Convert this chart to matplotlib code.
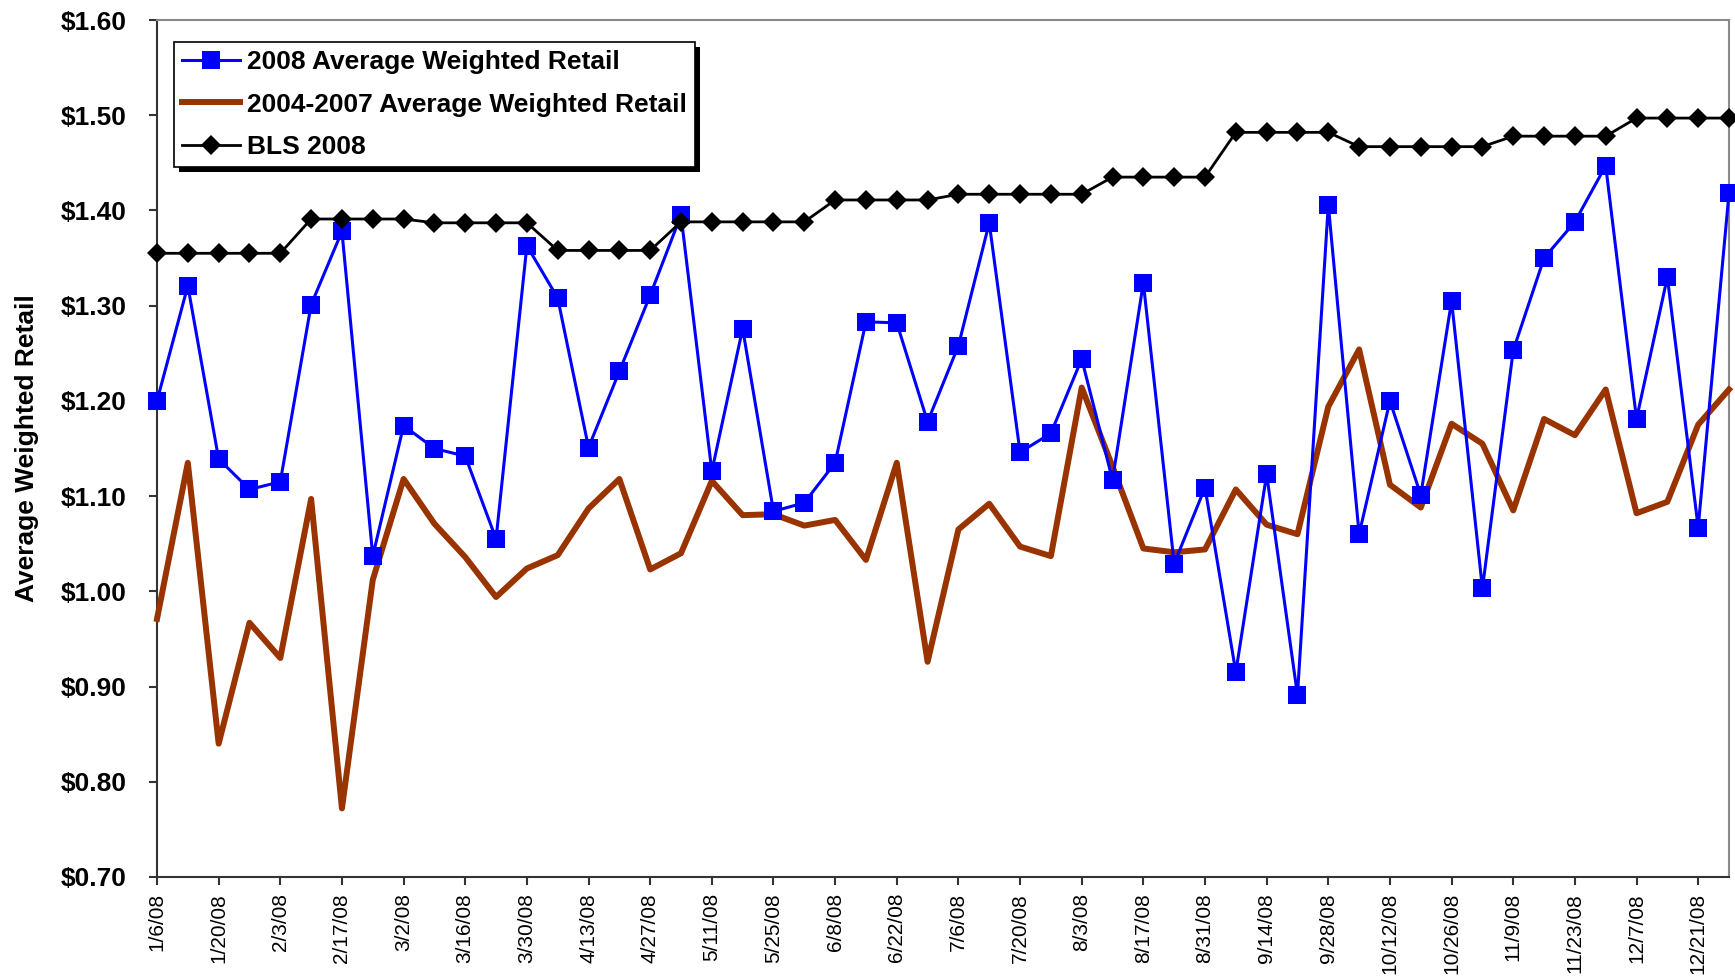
import matplotlib
matplotlib.use("Agg")
import matplotlib.pyplot as plt
import numpy as np
import pandas as pd
from matplotlib.patches import Rectangle

plt.rcParams["font.family"] = ["Liberation Sans", "DejaVu Sans"]

# weekly series, first week ending 1/6/08
weeks = pd.date_range("2008-01-06", periods=52, freq="7D")
week_labels = [f"{d.month}/{d.day}/{d:%y}" for d in weeks]

retail_2008 = [
  1.200, 1.321, 1.139, 1.107, 1.115, 1.301, 1.378, 1.037, 1.174, 1.150,
  1.142, 1.055, 1.363, 1.308, 1.151, 1.231, 1.311, 1.395, 1.126, 1.276,
  1.084, 1.093, 1.135, 1.283, 1.282, 1.178, 1.258, 1.387, 1.146, 1.166,
  1.244, 1.117, 1.324, 1.029, 1.109, 0.915, 1.123, 0.891, 1.406, 1.060,
  1.200, 1.101, 1.305, 1.003, 1.253, 1.350, 1.388, 1.447, 1.181, 1.330,
  1.067, 1.418,
]
retail_2004_2007 = [
  0.971, 1.135, 0.840, 0.967, 0.930, 1.097, 0.772, 1.012, 1.118, 1.071,
  1.036, 0.994, 1.024, 1.038, 1.087, 1.118, 1.023, 1.040, 1.116, 1.080,
  1.081, 1.069, 1.075, 1.033, 1.135, 0.926, 1.065, 1.092, 1.047, 1.037,
  1.214, 1.131, 1.045, 1.041, 1.044, 1.107, 1.070, 1.060, 1.194, 1.254,
  1.112, 1.088, 1.176, 1.155, 1.085, 1.181, 1.164, 1.212, 1.082, 1.094,
  1.175, 1.212,
]
bls_2008 = [
  1.355, 1.355, 1.355, 1.355, 1.355, 1.391, 1.391, 1.391, 1.391, 1.387,
  1.387, 1.387, 1.387, 1.358, 1.358, 1.358, 1.358, 1.388, 1.388, 1.388,
  1.388, 1.388, 1.411, 1.411, 1.411, 1.411, 1.417, 1.417, 1.417, 1.417,
  1.417, 1.435, 1.435, 1.435, 1.435, 1.482, 1.482, 1.482, 1.482, 1.467,
  1.467, 1.467, 1.467, 1.467, 1.478, 1.478, 1.478, 1.478, 1.497, 1.497,
  1.497, 1.497,
]

y_ticks = np.arange(0.70, 1.601, 0.10)

fig = plt.figure(figsize=(17.35, 9.77), dpi=100)
ax = fig.add_axes([157 / 1735, 100 / 977, 1572 / 1735, 857 / 977])

x = np.arange(len(weeks))
ax.plot(x, retail_2008, color="#0000ff", linewidth=2.2, marker="s",
        markersize=13.5, markeredgewidth=0, label="2008 Average Weighted Retail",
        clip_on=False, zorder=4)
ax.plot(x, retail_2004_2007, color="#993300", linewidth=4.3,
        label="2004-2007 Average Weighted Retail", clip_on=False, zorder=3)
ax.plot(x, bls_2008, color="black", linewidth=2.0, marker="D",
        markersize=10, markeredgewidth=0, label="BLS 2008",
        clip_on=False, zorder=4)

ax.set_xlim(0, len(weeks) - 1)
ax.set_ylim(0.70, 1.60)
ax.set_yticks(y_ticks)
ax.set_yticklabels([f"${v:.2f}" for v in y_ticks], fontsize=19, fontweight="bold")
ax.set_xticks(x[::2])
ax.set_xticklabels(week_labels[::2], rotation=90, fontsize=15)
ax.tick_params(axis="y", direction="out", length=6, width=1.5, pad=16, color="#333333")
ax.tick_params(axis="x", direction="out", length=6, width=1.5, pad=5.5, color="#333333")

ax.set_ylabel("Average Weighted Retail", fontsize=19, fontweight="bold")
ax.yaxis.set_label_coords(-0.075, 0.5)

for side in ("left", "bottom"):
  ax.spines[side].set_color("#333333")
  ax.spines[side].set_linewidth(1.5)
for side in ("top", "right"):
  ax.spines[side].set_color("#8a8a8a")
  ax.spines[side].set_linewidth(1.5)

legend = ax.legend(
  loc="upper left",
  bbox_to_anchor=(0.011, 0.974),
  borderaxespad=0,
  frameon=True,
  fancybox=False,
  framealpha=1,
  facecolor="white",
  prop={"size": 19, "weight": "bold"},
  handlelength=2.2,
  handletextpad=0.25,
  labelspacing=0.7,
  borderpad=0.3,
)
legend.get_frame().set_edgecolor("black")
legend.get_frame().set_linewidth(1.2)
legend.set_zorder(6)

# solid drop shadow behind the legend box
fig.canvas.draw()
box = legend.get_window_extent()
ax.add_patch(Rectangle((box.x0 + 5, box.y0 - 5), box.width, box.height,
                       transform=None, facecolor="black", edgecolor="none",
                       zorder=5.5, clip_on=False))

fig.savefig("out.png", dpi=100)
